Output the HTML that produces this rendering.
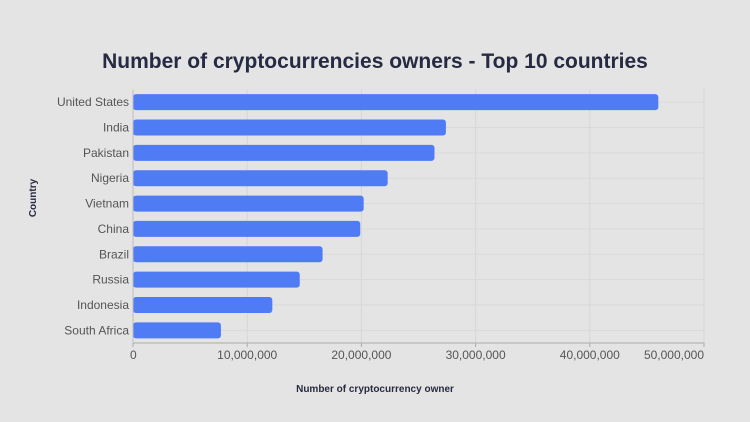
<!DOCTYPE html>
<html><head><meta charset="utf-8"><style>
html,body{margin:0;padding:0;background:#e4e4e4;}
svg{display:block;font-family:"Liberation Sans",sans-serif;}
</style></head><body>
<svg id="chart" width="750" height="422">
<rect width="750" height="422" fill="#e4e4e4"/>
<text x="375" y="68" text-anchor="middle" font-size="21" font-weight="bold" fill="#262a42">Number of cryptocurrencies owners - Top 10 countries</text>
<text transform="translate(36,198) rotate(-90)" text-anchor="middle" font-size="10" font-weight="bold" fill="#262a42">Country</text>
<text x="375" y="392" text-anchor="middle" font-size="10" font-weight="bold" fill="#262a42">Number of cryptocurrency owner</text>
<g id="grid"></g><g id="bars"></g><g id="axes"></g>
</svg>
<script>
const categories = ["United States","India","Pakistan","Nigeria","Vietnam","China","Brazil","Russia","Indonesia","South Africa"];
const values = [46000000,27400000,26400000,22300000,20200000,19900000,16600000,14600000,12200000,7700000];
const tickValues = [0,10000000,20000000,30000000,40000000,50000000];
const tickLabels = ["0","10,000,000","20,000,000","30,000,000","40,000,000","50,000,000"];
const NS="http://www.w3.org/2000/svg";
const X0=133,X1=704,Y0=89.5,Y1=343,XMAX=50000000;
const band=(Y1-Y0)/categories.length;
function xs(v){return X0+(v/XMAX)*(X1-X0);}
function yc(i){return Y0+band*(i+0.5);}
function mk(t,a,p){const e=document.createElementNS(NS,t);for(const k in a)e.setAttribute(k,a[k]);p.appendChild(e);return e;}
const grid=document.getElementById('grid'),bars=document.getElementById('bars'),axes=document.getElementById('axes');
tickValues.forEach((v,i)=>{
  const l=mk('line',{x1:xs(v),x2:xs(v),y1:Y0,y2:Y1,stroke:'#d6d6d6','stroke-width':1},grid);
  
  
  const tk=mk('line',{x1:xs(v),x2:xs(v),y1:Y1,y2:Y1+4,stroke:'#aaa'},axes);
  
  
  const t=mk('text',{x:xs(v),y:Y1+16,'text-anchor':i===0?'start':(i===tickValues.length-1?'end':'middle'),'font-size':12,fill:'#555'},axes);
  if(i===0)t.setAttribute('x',xs(v)-3);
  t.textContent=tickLabels[i];
  
  
});
categories.forEach((c,i)=>{
  const g=mk('line',{x1:X0,x2:X1,y1:yc(i),y2:yc(i),stroke:'#d9d9d9'},grid);
  
  
  const r=mk('rect',{x:X0,y:yc(i)-8,width:xs(values[i])-X0,height:16,rx:3,fill:'#4f7bf5'},bars);
  
  
  const t=mk('text',{x:X0-4,y:yc(i)+4,'text-anchor':'end','font-size':12,fill:'#555'},axes);
  t.textContent=c;
  
  
});
const ax=mk('line',{x1:X0,x2:X1,y1:Y1,y2:Y1,stroke:'#aaa'},axes);


const ay=mk('line',{x1:X0,x2:X0,y1:Y0,y2:Y1,stroke:'#bbb'},axes);


</script>
</body></html>
